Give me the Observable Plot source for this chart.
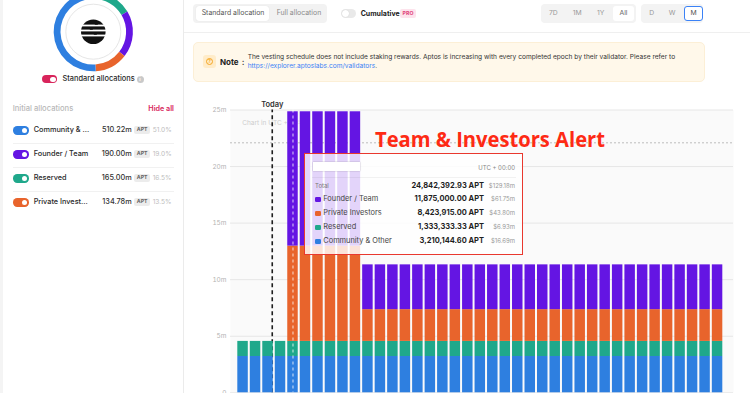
<!DOCTYPE html>
<html>
<head>
<meta charset="utf-8">
<script src="https://cdn.jsdelivr.net/npm/d3@7"></script>
<script src="https://cdn.jsdelivr.net/npm/@observablehq/plot@0.6"></script>
<style>
html, body { margin:0; padding:0; width:750px; height:393px; overflow:hidden; background:#f4f4f4; font-family: Inter, "Noto Sans", sans-serif; }
#page { position:absolute; left:0; top:0; width:750px; height:393px; overflow:hidden; }
.abs { position:absolute; }
.t { position:absolute; white-space:nowrap; line-height:1; }
</style>
</head>
<body>
<div id="page">
  <div class="abs" style="left:3px;top:0;width:180px;height:393px;background:#fff;border-right:1px solid #ebebeb;"></div>
  <div class="abs" style="left:184px;top:0;width:566px;height:393px;background:#fff;"></div>
  <div class="abs" style="left:184px;top:32px;width:566px;height:1px;background:#efefef;"></div>
  <div id="chart" class="abs" style="left:190px;top:88px;"></div>
  <div id="ui"></div>
</div>
<script>
// ---------------- DATA ----------------
const months = ["Jun 2023","Jul 2023","Aug 2023","Sep 2023","Oct 2023","Nov 2023","Dec 2023","Jan 2024","Feb 2024","Mar 2024",
  "Apr 2024","May 2024","Jun 2024","Jul 2024","Aug 2024","Sep 2024","Oct 2024","Nov 2024","Dec 2024","Jan 2025",
  "Feb 2025","Mar 2025","Apr 2025","May 2025","Jun 2025","Jul 2025","Aug 2025","Sep 2025","Oct 2025","Nov 2025",
  "Dec 2025","Jan 2026","Feb 2026","Mar 2026","Apr 2026","May 2026","Jun 2026","Jul 2026","Aug 2026"];

const communityOther = [3210144.60,3210144.60,3210144.60,3210144.60,3210144.60,3210144.60,3210144.60,3210144.60,3210144.60,3210144.60,
  3210144.60,3210144.60,3210144.60,3210144.60,3210144.60,3210144.60,3210144.60,3210144.60,3210144.60,3210144.60,
  3210144.60,3210144.60,3210144.60,3210144.60,3210144.60,3210144.60,3210144.60,3210144.60,3210144.60,3210144.60,
  3210144.60,3210144.60,3210144.60,3210144.60,3210144.60,3210144.60,3210144.60,3210144.60,3210144.60];
const reserved = [1333333.33,1333333.33,1333333.33,1333333.33,1333333.33,1333333.33,1333333.33,1333333.33,1333333.33,1333333.33,
  1333333.33,1333333.33,1333333.33,1333333.33,1333333.33,1333333.33,1333333.33,1333333.33,1333333.33,1333333.33,
  1333333.33,1333333.33,1333333.33,1333333.33,1333333.33,1333333.33,1333333.33,1333333.33,1333333.33,1333333.33,
  1333333.33,1333333.33,1333333.33,1333333.33,1333333.33,1333333.33,1333333.33,1333333.33,1333333.33];
const privateInvestors = [0,0,0,0,8423915,8423915,8423915,8423915,8423915,8423915,
  2807971.67,2807971.67,2807971.67,2807971.67,2807971.67,2807971.67,2807971.67,2807971.67,2807971.67,2807971.67,
  2807971.67,2807971.67,2807971.67,2807971.67,2807971.67,2807971.67,2807971.67,2807971.67,2807971.67,2807971.67,
  2807971.67,2807971.67,2807971.67,2807971.67,2807971.67,2807971.67,2807971.67,2807971.67,2807971.67];
const founderTeam = [0,0,0,0,11875000,11875000,11875000,11875000,11875000,11875000,
  3958333.33,3958333.33,3958333.33,3958333.33,3958333.33,3958333.33,3958333.33,3958333.33,3958333.33,3958333.33,
  3958333.33,3958333.33,3958333.33,3958333.33,3958333.33,3958333.33,3958333.33,3958333.33,3958333.33,3958333.33,
  3958333.33,3958333.33,3958333.33,3958333.33,3958333.33,3958333.33,3958333.33,3958333.33,3958333.33];

const stackOrder = ["Community & Other","Reserved","Private Investors","Founder / Team"];
const stackColors = ["#2e7fe0","#1fa88b","#e8642c","#6415e3"];
const yTicks = [0, 5e6, 10e6, 15e6, 20e6, 25e6];
const todayMonth = "Aug 2023", todayDay = 27, todayMonthDays = 31;
const hoverMonth = "Oct 2023";
const cursorValue = 22.1e6;
const aptPrice = 5.2;

const allocLabels = ["Community & ...","Founder / Team","Reserved","Private Invest..."];
const allocAmounts = ["510.22m","190.00m","165.00m","134.78m"];
const allocPercents = [51.0, 19.0, 16.5, 13.5];
const allocColors = ["#2e7fe0","#6415e3","#1fa88b","#e8642c"];
const donutOrder = ["Reserved","Founder / Team","Private Investors","Community & Other"];
const donutPercents = [16.5, 19.0, 13.5, 51.0];
const donutColors = ["#1fa88b","#6415e3","#e8642c","#2e7fe0"];

const tipOrder = ["Founder / Team","Private Investors","Reserved","Community & Other"];
const timeButtons = ["7D","1M","1Y","All"];
const granButtons = ["D","W","M"];
const noteLine1 = "The vesting schedule does not include staking rewards. Aptos is increasing with every completed epoch by their validator. Please refer to";
const noteLink = "https://explorer.aptoslabs.com/validators";

// ---------------- CHART ----------------
const seriesValues = {"Community & Other": communityOther, "Reserved": reserved, "Private Investors": privateInvestors, "Founder / Team": founderTeam};
const rows = [];
months.forEach((m, i) => {
  let acc = 0;
  stackOrder.forEach(s => {
    const v = seriesValues[s][i];
    if (v > 0) rows.push({i, month: m, series: s, y1: acc, y2: acc + v});
    acc += v;
  });
});
const todayPos = months.indexOf(todayMonth) + (todayDay - 1) / todayMonthDays;
const hoverPos = months.indexOf(hoverMonth) + 0.5;

const chart = Plot.plot({
  width: 560, height: 330,
  marginLeft: 40, marginRight: 17, marginTop: 21.5, marginBottom: 25.7,
  style: {fontFamily: "Inter, sans-serif", background: "transparent", overflow: "visible"},
  x: {type: "linear", domain: [0, months.length], range: [46.3, 533.3], axis: null},
  y: {domain: [0, 25e6], axis: null},
  color: {domain: stackOrder, range: stackColors},
  marks: [
    Plot.frame({fill: "#fafafa", stroke: "none"}),
    Plot.gridY({ticks: yTicks, stroke: "#e6e6e6", strokeOpacity: 1}),
    Plot.axisY({ticks: yTicks, tickSize: 0, tickPadding: 4, label: null, fill: "#b3b3b3", fontSize: 6.5,
      tickFormat: d => d === 0 ? "0" : (d / 1e6) + "m"}),
    Plot.text(["Chart in UTC + 00:00"], {frameAnchor: "top-left", lineAnchor: "middle", dx: 11.7, dy: 12.5, fill: "#cdcdcd", fontSize: 6.5}),
    Plot.ruleY([cursorValue], {stroke: "#bdbdbd", strokeDasharray: "2,2"}),
    Plot.ruleX([todayPos], {y1: 0, y2: 25e6, stroke: "#1e1e1e", strokeWidth: 1.6, strokeDasharray: "4,3"}),
    Plot.text([todayPos], {x: d => d, frameAnchor: "top", lineAnchor: "middle", dy: -5.5, text: () => "Today", fontWeight: 600, fontSize: 7.5, fill: "#333"}),
    Plot.rect(rows, {x1: "i", x2: d => d.i + 1, y1: "y1", y2: "y2", fill: "series", insetLeft: 1, insetRight: 1}),
    Plot.ruleX([hoverPos], {stroke: "white", strokeDasharray: "3,3", strokeOpacity: 0.8})
  ]
});
document.getElementById("chart").appendChild(chart);

// ---------------- UI helpers ----------------
const ui = document.getElementById("ui");
function box(x, y, w, h, style) {
  const d = document.createElement("div");
  d.className = "abs";
  d.style.cssText = `left:${x}px;top:${y}px;width:${w}px;height:${h}px;` + (style || "");
  ui.appendChild(d); return d;
}
function txt(s, x, y, o = {}) {
  const d = document.createElement("div");
  d.className = "t";
  const size = o.size || 7, anchor = o.anchor || "start";
  const tx = anchor === "end" ? "-100%" : anchor === "middle" ? "-50%" : "0";
  d.style.cssText = `left:${x}px;top:${y}px;font-size:${size}px;font-weight:${o.weight || 400};color:${o.color || "#333"};transform:translate(${tx},-50%);` +
    (o.family ? `font-family:${o.family};` : "") + (o.style || "");
  d.innerHTML = s;
  ui.appendChild(d); return d;
}
function toggle(x, y, w, h, bg, on) {
  box(x, y, w, h, `background:${bg};border-radius:${h / 2}px;`);
  const r = h - 3;
  box(on ? x + w - r - 1.5 : x + 1.5, y + 1.5, r, r, `background:#fff;border-radius:50%;`);
}

// ---------------- LEFT PANEL ----------------
const donut = d3.select(ui).append("svg").attr("class", "abs").style("left", "0px").style("top", "0px")
  .attr("width", 183).attr("height", 80);
const g = donut.append("g").attr("transform", "translate(93.3,31.7)");
const pie = d3.pie().sort(null).value(d => d.v);
const arcs = pie(donutOrder.map((n, i) => ({n, v: donutPercents[i], c: donutColors[i]})));
const arc = d3.arc().innerRadius(32.8).outerRadius(39.6);
g.selectAll("path").data(arcs).join("path").attr("d", arc).attr("fill", d => d.data.c);
g.append("circle").attr("r", 27.5).attr("fill", "#fff").attr("stroke", "#e6e6e6").attr("stroke-width", 1);
// logo
g.append("circle").attr("r", 12.3).attr("fill", "#111");
[[-6.2, -13, 3, 13], [-1.2, -13, -2, 13], [3.8, -13, 2, 13]].forEach(([yy, a, gap, b]) => {
  g.append("rect").attr("x", a).attr("y", yy - 0.9).attr("width", b - a).attr("height", 1.8).attr("fill", "#fff");
  g.append("rect").attr("x", gap - 1.5).attr("y", yy - 2.2).attr("width", 3).attr("height", 1.4).attr("fill", "#111");
});

toggle(41.7, 75, 15.6, 8.4, "#d8245b", true);
txt("Standard allocations", 62.5, 79.2, {size: 7.4, weight: 500, color: "#2a2a2a"});
box(136.5, 75.6, 7, 7, "background:#c9c9c9;border-radius:50%;");
txt("i", 140, 79.2, {size: 5, weight: 700, color: "#fff", anchor: "middle"});

txt("Initial allocations", 12.7, 109.4, {size: 7.6, weight: 500, color: "#b8b8b8"});
txt("Hide all", 174, 109.4, {size: 7.2, weight: 600, color: "#d8245b", anchor: "end"});

allocLabels.forEach((lab, i) => {
  const cy = 130.3 + i * 24;
  toggle(12.7, cy - 4, 16, 8.4, allocColors[i], true);
  txt(lab, 33.7, cy, {size: 7.3, weight: 500, color: "#2a2a2a"});
  txt(allocAmounts[i], 131.7, cy, {size: 7.3, weight: 500, color: "#333", anchor: "end"});
  box(134.3, cy - 4, 15.7, 8, "background:#ececec;border-radius:2px;");
  txt("APT", 142.2, cy, {size: 5.2, weight: 700, color: "#666", anchor: "middle"});
  txt(allocPercents[i].toFixed(1) + "%", 152.7, cy, {size: 6.6, weight: 400, color: "#bdbdbd"});
  if (i < allocLabels.length - 1) box(12.7, cy + 12.2, 161.3, 1, "background:#f1f1f1;");
});

// ---------------- HEADER ----------------
box(193, 4, 134, 18.7, "background:#f2f2f2;border-radius:4px;");
box(195.5, 5.8, 73, 15, "background:#fff;border-radius:3px;box-shadow:0 0 1px rgba(0,0,0,0.12);");
txt("Standard allocation", 201.7, 13.4, {size: 6.9, color: "#555"});
txt("Full allocation", 276.7, 13.4, {size: 6.9, color: "#8a8a8a"});
box(340.7, 9, 15, 9.3, "background:#e9e9e9;border-radius:5px;");
box(342, 10.2, 7, 7, "background:#fff;border-radius:50%;box-shadow:0 0 1px rgba(0,0,0,0.2);");
txt("Cumulative", 360.7, 13.4, {size: 7, weight: 700, color: "#222"});
box(400, 9.3, 16, 9, "background:#fde3ec;border-radius:2px;");
txt("PRO", 408, 13.8, {size: 5.2, weight: 700, color: "#e0457b", anchor: "middle"});

box(540.7, 4, 95, 18.7, "background:#f3f3f3;border-radius:4px;");
box(613, 6, 21, 15, "background:#fff;border-radius:3px;");
const tbx = [553.3, 577.3, 600.7, 623.5];
timeButtons.forEach((b, i) => txt(b, tbx[i], 13.4, {size: 6.8, color: i === 3 ? "#666" : "#999", anchor: "middle"}));
box(640.7, 4, 62.5, 18.7, "background:#f3f3f3;border-radius:4px;");
box(684, 5.6, 19, 15.4, "background:#fff;border:1px solid #3b82f6;border-radius:3px;box-sizing:border-box;");
const gbx = [651.7, 672, 693.5];
granButtons.forEach((b, i) => txt(b, gbx[i], 13.4, {size: 6.8, color: i === 2 ? "#555" : "#999", anchor: "middle"}));

// ---------------- NOTE ----------------
box(193.3, 41.7, 511.7, 40, "background:#fff8ea;border:1px solid #fcefd6;border-radius:5px;box-sizing:border-box;");
box(203, 55, 13, 13, "background:#ffecc9;border-radius:3px;");
box(206, 58, 7, 7, "border:1px solid #f5a623;border-radius:50%;box-sizing:border-box;");
txt("?", 209.5, 61.6, {size: 4.5, weight: 700, color: "#f5a623", anchor: "middle"});
txt("Note", 220, 62, {size: 8, weight: 700, color: "#222"});
txt(":", 241.7, 62, {size: 8, weight: 700, color: "#222"});
txt(noteLine1, 247.7, 57, {size: 6.6, color: "#333"});
txt(`<span style="color:#3b82f6">${noteLink}</span>.`, 247.7, 66.4, {size: 6.6, color: "#333"});

// ---------------- TOOLTIP ----------------
box(305, 154, 217, 100, "background:rgba(255,255,255,0.82);");
box(303.8, 152.8, 219.4, 102.4, "border:1.6px solid #e9382e;box-sizing:border-box;");
box(313.3, 162.3, 46.7, 8.4, "background:#fff;box-shadow:0 0 1.5px rgba(0,0,0,0.28);");
txt("UTC + 00:00", 515, 167.7, {size: 6, color: "#888", anchor: "end"});
box(312, 176.5, 204, 0.8, "background:rgba(0,0,0,0.05);");
const hi = months.indexOf(hoverMonth);
const fmt = d3.format(",.2f");
const usd = v => "$" + (v * aptPrice / 1e6).toFixed(2) + "m";
const total = stackOrder.reduce((a, s) => a + seriesValues[s][hi], 0);
txt("Total", 315, 185.7, {size: 6, color: "#777"});
txt(fmt(total) + " APT", 484, 185.7, {size: 7.5, weight: 700, color: "#1f1f1f", anchor: "end"});
txt(usd(total), 515, 185.7, {size: 6, color: "#999", anchor: "end"});
tipOrder.forEach((s, k) => {
  const cy = 199.3 + k * 14;
  const c = stackColors[stackOrder.indexOf(s)];
  box(315, cy - 2.8, 5.6, 5.6, `background:${c};border-radius:1.3px;`);
  txt(s, 323.3, cy, {size: 7.4, color: "#444"});
  txt(fmt(seriesValues[s][hi]) + " APT", 484, cy, {size: 7.5, weight: 700, color: "#1f1f1f", anchor: "end"});
  txt(usd(seriesValues[s][hi]), 515, cy, {size: 6, color: "#999", anchor: "end"});
});

// ---------------- RED ALERT TITLE ----------------
const ts = d3.select(ui).append("svg").attr("class", "abs").style("left", "370px").style("top", "120px")
  .attr("width", 250).attr("height", 35);
ts.append("text").attr("x", 5).attr("y", 26.7).attr("textLength", 230).attr("lengthAdjust", "spacingAndGlyphs")
  .attr("font-family", "'Open Sans', sans-serif").attr("font-weight", 700).attr("font-size", 21.5)
  .attr("fill", "#fe2a14").text("Team & Investors Alert");
</script>
</body>
</html>
